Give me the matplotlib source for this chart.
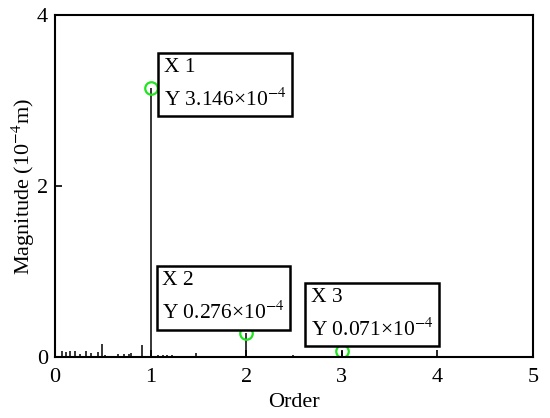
import matplotlib
matplotlib.use("Agg")
import matplotlib.pyplot as plt

# small side spikes of the spectrum (order, magnitude in 1e-4 m)
orders = [0.07, 0.12, 0.16, 0.21, 0.26, 0.32, 0.38, 0.45, 0.49, 0.52,
          0.66, 0.72, 0.77, 0.80, 0.91, 1.00, 1.08, 1.13, 1.17, 1.22,
          1.33, 1.48, 2.00, 2.49, 3.00]
magnitudes = [0.07, 0.06, 0.066, 0.066, 0.04, 0.07, 0.043, 0.058, 0.156, 0.023,
              0.031, 0.035, 0.04, 0.05, 0.144, 3.146, 0.02, 0.027, 0.02, 0.027,
              0.01, 0.043, 0.276, 0.02, 0.071]

# data tips
tip_x = [1, 2, 3]
tip_y = [3.146, 0.276, 0.071]
tip_labels = ["X 1\nY 3.146×10$^{-4}$",
              "X 2\nY 0.276×10$^{-4}$",
              "X 3\nY 0.071×10$^{-4}$"]
tip_offsets = [(13, 30), (-84, 62), (-31, 63)]

plt.rcParams["font.family"] = ["Liberation Serif", "DejaVu Serif"]
plt.rcParams["mathtext.fontset"] = "stix"

fig = plt.figure(figsize=(5.5, 4.18), dpi=100)
ax = fig.add_axes([0.1, 0.146, 0.869, 0.818])

ax.vlines(orders, 0, magnitudes, color="black", linewidth=1.1)
ax.plot(tip_x, tip_y, "o", mfc="none", mec="#1ee61e", mew=1.6, ms=9)

for x, y, txt, off in zip(tip_x, tip_y, tip_labels, tip_offsets):
    ax.annotate(txt, xy=(x, y), xytext=off, textcoords="offset pixels",
                ha="left", va="top", fontsize=15.5, linespacing=1.65,
                bbox=dict(boxstyle="square,pad=0.25", fc="white", ec="black", lw=1.8))

ax.set_xlim(0, 5)
ax.set_ylim(0, 4)
ax.set_xticks([0, 1, 2, 3, 4, 5])
ax.set_yticks([0, 2, 4])
ax.tick_params(direction="in", length=5, width=1.2, labelsize=16)
ax.tick_params(axis="x", pad=8)
ax.tick_params(axis="y", pad=5)
for s in ax.spines.values():
    s.set_linewidth(1.5)
ax.set_xlabel("Order", fontsize=16, labelpad=4)
ax.set_ylabel("Magnitude (10$^{-4}$m)", fontsize=16, labelpad=0)

fig.savefig("out.png", dpi=100)
